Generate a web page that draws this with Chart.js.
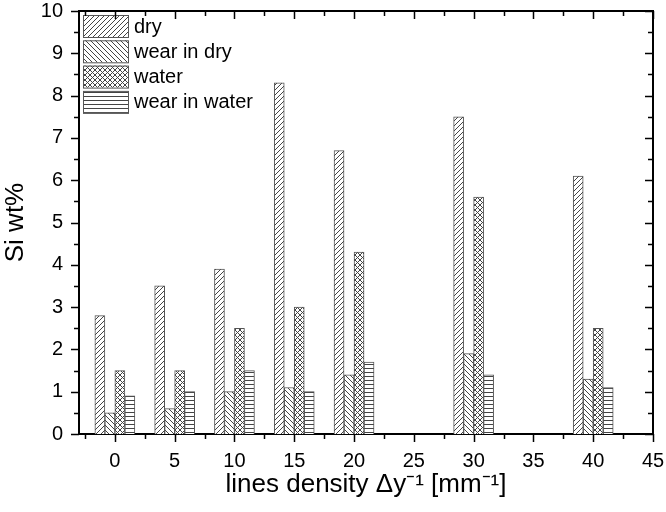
<!DOCTYPE html>
<html>
<head>
<meta charset="utf-8">
<script src="https://cdn.jsdelivr.net/npm/chart.js@4"></script>
<style>
  body { margin: 0; background: #fff; }
</style>
</head>
<body>
<canvas id="chart" width="666" height="512"></canvas>
<script>
// values
var xValues = [0, 5, 10, 15, 20, 30, 40];
var dry = [2.8, 3.5, 3.9, 8.3, 6.7, 7.5, 6.1];
var wearInDry = [0.5, 0.6, 1.0, 1.1, 1.4, 1.9, 1.3];
var water = [1.5, 1.5, 2.5, 3.0, 4.3, 5.6, 2.5];
var wearInWater = [0.9, 1.0, 1.5, 1.0, 1.7, 1.4, 1.1];
var seriesNames = ["dry", "wear in dry", "water", "wear in water"];

var FONT = "'Liberation Sans', Arial, sans-serif";

function makeHatch(kind) {
    var s = 5;
    if (kind == "horiz") s = 4;
    var c = document.createElement("canvas");
    c.width = s; c.height = s;
    var g = c.getContext("2d");
    g.fillStyle = "#fff";
    g.fillRect(0, 0, s, s);
    g.strokeStyle = "#444";
    g.lineWidth = 1;
    g.beginPath();
    if (kind == "fwd" || kind == "cross") {
        g.moveTo(-1, s + 1); g.lineTo(s + 1, -1);
        g.moveTo(-1, 1); g.lineTo(1, -1);
        g.moveTo(s - 1, s + 1); g.lineTo(s + 1, s - 1);
    }
    if (kind == "back" || kind == "cross") {
        g.moveTo(-1, -1); g.lineTo(s + 1, s + 1);
        g.moveTo(s - 1, -1); g.lineTo(s + 1, 1);
        g.moveTo(-1, s - 1); g.lineTo(1, s + 1);
    }
    if (kind == "horiz") {
        g.moveTo(0, 0.5); g.lineTo(s, 0.5);
    }
    g.stroke();
    return g.createPattern(c, "repeat");
}

var ctx = document.getElementById("chart").getContext("2d");
var fills = [makeHatch("fwd"), makeHatch("back"), makeHatch("cross"), makeHatch("horiz")];

function points(vals) {
    return xValues.map(function (x, i) { return { x: x, y: vals[i] }; });
}

// frame, minor ticks and mirrored ticks like the original plot
var frameTicks = {
    id: "frameTicks",
    afterDraw: function (chart) {
        var a = chart.chartArea, c = chart.ctx;
        var xs = chart.scales.x, ys = chart.scales.y;
        c.save();
        c.strokeStyle = "#000";
        c.lineWidth = 2;
        c.beginPath();
        c.moveTo(a.left, a.top); c.lineTo(a.right, a.top); c.lineTo(a.right, a.bottom);
        c.stroke();
        c.lineWidth = 1.5;
        c.beginPath();
        for (var v = -2.5; v <= 45.01; v += 2.5) {
            var px = Math.round(xs.getPixelForValue(v)) + 0.5;
            var len = (Math.abs(v % 5) < 0.01) ? 8 : 5;
            c.moveTo(px, a.bottom); c.lineTo(px, a.bottom + len);
            c.moveTo(px, a.top); c.lineTo(px, a.top + len);
        }
        for (var w = 0; w <= 10.01; w += 0.5) {
            var py = Math.round(ys.getPixelForValue(w)) + 0.5;
            var l2 = (Math.abs(w % 1) < 0.01) ? 8 : 5;
            c.moveTo(a.left, py); c.lineTo(a.left - l2, py);
            c.moveTo(a.right, py); c.lineTo(a.right - l2, py);
        }
        c.stroke();
        c.restore();
    }
};

// legend box in the upper left of the plot
var boxLegend = {
    id: "boxLegend",
    afterDatasetsDraw: function (chart) {
        var a = chart.chartArea, c = chart.ctx;
        c.save();
        c.font = "20px " + FONT;
        c.textBaseline = "middle";
        for (var i = 0; i < seriesNames.length; i++) {
            var bx = a.left + 4, by = a.top + 4 + i * 25.3;
            c.fillStyle = fills[i];
            c.fillRect(bx, by, 45, 22);
            c.strokeStyle = "#555";
            c.lineWidth = 1;
            c.strokeRect(bx + 0.5, by + 0.5, 45, 22);
            c.fillStyle = "#000";
            c.fillText(seriesNames[i], bx + 51, by + 12);
        }
        c.restore();
    }
};

var chart = new Chart(ctx, {
    type: "bar",
    data: {
        datasets: [dry, wearInDry, water, wearInWater].map(function (vals, i) {
            return {
                label: seriesNames[i],
                data: points(vals),
                backgroundColor: fills[i],
                borderColor: "#555",
                borderWidth: 1,
                barThickness: 10
            };
        })
    },
    options: {
        responsive: false,
        devicePixelRatio: 1,
        animation: false,
        layout: { padding: 0 },
        plugins: { legend: { display: false }, tooltip: { enabled: false } },
        scales: {
            x: {
                type: "linear",
                min: -3,
                max: 45,
                offset: false,
                grid: { display: false, drawTicks: false },
                border: { display: true, color: "#000", width: 2 },
                ticks: {
                    stepSize: 5,
                    includeBounds: false,
                    padding: 15,
                    color: "#000",
                    font: { family: FONT, size: 20 },
                    maxRotation: 0
                },
                title: {
                    display: true,
                    text: "lines density \u0394y\u207B\u00B9 [mm\u207B\u00B9]",
                    color: "#000",
                    font: { family: FONT, size: 26 },
                    padding: { top: 0, bottom: 12 }
                },
                afterFit: function (scale) {
                    scale.height = 78;
                    scale.paddingLeft = 0;
                    scale.paddingRight = 13;
                }
            },
            y: {
                min: 0,
                max: 10,
                grid: { display: false, drawTicks: false },
                border: { display: true, color: "#000", width: 2 },
                ticks: {
                    stepSize: 1,
                    padding: 16,
                    color: "#000",
                    font: { family: FONT, size: 20 }
                },
                title: {
                    display: true,
                    text: "Si wt%",
                    color: "#000",
                    font: { family: FONT, size: 26 },
                    padding: 0
                },
                afterFit: function (scale) {
                    scale.width = 79;
                    scale.paddingTop = 11;
                    scale.paddingBottom = 0;
                }
            }
        }
    },
    plugins: [frameTicks, boxLegend]
});
</script>
</body>
</html>
